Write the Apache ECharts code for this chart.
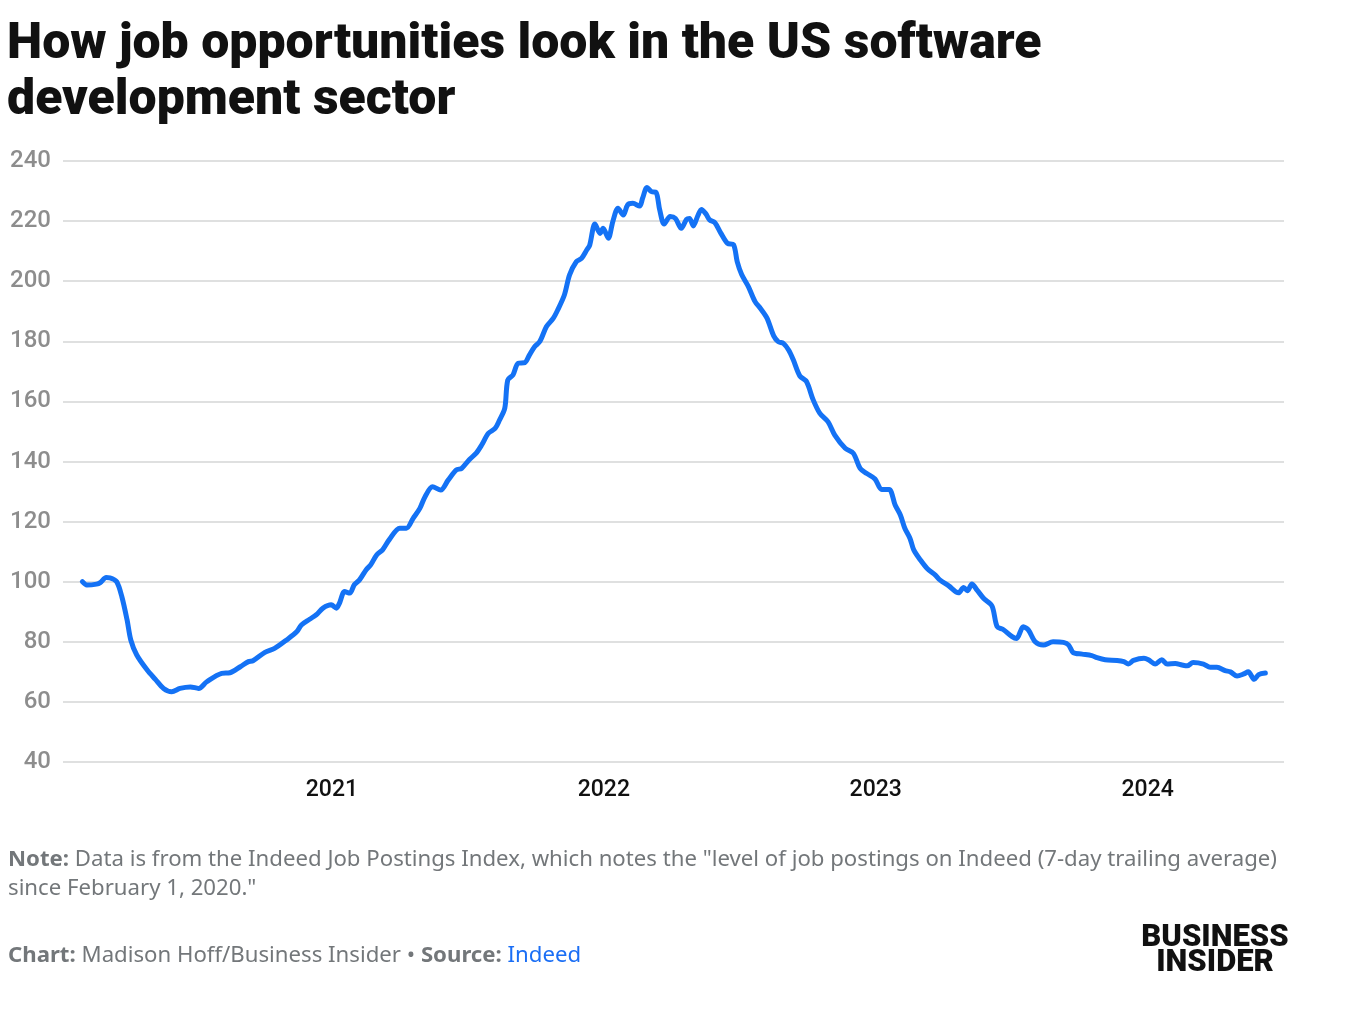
<!DOCTYPE html>
<html>
<head>
<meta charset="utf-8">
<title>US software development job postings</title>
<script src="https://cdn.jsdelivr.net/npm/echarts@6/dist/echarts.min.js"></script>
<style>
  html, body { margin: 0; padding: 0; background: #fff; }
  #chart { width: 1362px; height: 1012px; }
</style>
</head>
<body>
<div id="chart"></div>
<script>
// Indeed Job Postings Index, software development (Feb 1, 2020 = 100)
const dates = [
  '2020-02-01', '2020-02-07', '2020-02-20', '2020-02-25', '2020-03-04', '2020-03-09', '2020-03-18', '2020-03-25',
  '2020-04-01', '2020-04-06', '2020-04-14', '2020-04-28', '2020-05-09', '2020-05-20', '2020-05-31', '2020-06-11',
  '2020-06-25', '2020-07-06', '2020-07-17', '2020-08-06', '2020-08-17', '2020-08-31', '2020-09-11', '2020-09-17',
  '2020-10-03', '2020-10-16', '2020-11-01', '2020-11-15', '2020-11-21', '2020-12-02', '2020-12-11', '2020-12-20',
  '2020-12-31', '2021-01-07', '2021-01-11', '2021-01-18', '2021-01-25', '2021-01-31', '2021-02-07', '2021-02-16',
  '2021-02-22', '2021-03-02', '2021-03-10', '2021-03-19', '2021-04-02', '2021-04-11', '2021-04-20', '2021-04-29',
  '2021-05-06', '2021-05-16', '2021-05-27', '2021-06-06', '2021-06-17', '2021-06-24', '2021-07-04', '2021-07-14',
  '2021-07-21', '2021-07-30', '2021-08-08', '2021-08-14', '2021-08-21', '2021-08-25', '2021-09-01', '2021-09-08',
  '2021-09-17', '2021-09-23', '2021-09-30', '2021-10-07', '2021-10-16', '2021-10-25', '2021-10-31', '2021-11-09',
  '2021-11-16', '2021-11-25', '2021-12-02', '2021-12-09', '2021-12-13', '2021-12-20', '2021-12-27', '2021-12-31',
  '2022-01-07', '2022-01-13', '2022-01-20', '2022-01-27', '2022-02-02', '2022-02-09', '2022-02-18', '2022-02-22',
  '2022-02-28', '2022-03-06', '2022-03-12', '2022-03-17', '2022-03-23', '2022-03-31', '2022-04-07', '2022-04-15',
  '2022-04-22', '2022-04-26', '2022-05-01', '2022-05-07', '2022-05-12', '2022-05-18', '2022-05-23', '2022-05-30',
  '2022-06-07', '2022-06-16', '2022-06-24', '2022-06-29', '2022-07-05', '2022-07-14', '2022-07-23', '2022-07-30',
  '2022-08-08', '2022-08-17', '2022-08-23', '2022-08-30', '2022-09-06', '2022-09-12', '2022-09-21', '2022-09-30',
  '2022-10-09', '2022-10-18', '2022-10-29', '2022-11-07', '2022-11-21', '2022-12-02', '2022-12-11', '2022-12-20',
  '2022-12-31', '2023-01-09', '2023-01-19', '2023-01-27', '2023-02-03', '2023-02-09', '2023-02-16', '2023-02-21',
  '2023-03-02', '2023-03-11', '2023-03-22', '2023-03-28', '2023-04-09', '2023-04-22', '2023-04-29', '2023-05-04',
  '2023-05-10', '2023-05-17', '2023-05-26', '2023-06-06', '2023-06-13', '2023-06-21', '2023-07-03', '2023-07-09',
  '2023-07-18', '2023-07-25', '2023-08-03', '2023-08-14', '2023-08-27', '2023-09-10', '2023-09-17', '2023-09-23',
  '2023-10-05', '2023-10-18', '2023-10-25', '2023-11-05', '2023-11-21', '2023-11-30', '2023-12-06', '2023-12-13',
  '2023-12-27', '2024-01-02', '2024-01-11', '2024-01-20', '2024-01-27', '2024-02-07', '2024-02-16', '2024-02-23',
  '2024-03-02', '2024-03-16', '2024-03-25', '2024-04-03', '2024-04-14', '2024-04-21', '2024-04-30', '2024-05-09',
  '2024-05-15', '2024-05-23', '2024-05-29', '2024-06-07'
]
const postings = [
  100, 98.9, 99.2, 99.7, 101.4, 101.3, 100, 95,
  87.3, 80.6, 75.6, 70.6, 67.5, 64.5, 63.4, 64.5,
  65, 64.5, 66.7, 69.5, 69.7, 71.7, 73.4, 73.7,
  76.5, 77.8, 80.6, 83.4, 85.6, 87.5, 89, 91.2,
  92.3, 91.2, 92.8, 96.7, 96.2, 99, 100.6, 104,
  105.6, 108.9, 110.6, 114, 117.8, 117.8, 121.1, 124.4,
  128.3, 131.6, 130.5, 133.8, 137.2, 137.7, 140.5, 142.9,
  145.5, 149.4, 151, 153.8, 157.7, 167.1, 168.8, 172.7,
  172.9, 175.4, 178.2, 179.9, 184.9, 187.6, 190.4, 195.4,
  202.1, 206.5, 207.6, 210.4, 212, 219, 215.9, 217.6,
  214.3, 219.8, 224.3, 222, 225.4, 225.9, 225, 227.6,
  231.2, 229.8, 229.6, 223.7, 219, 221.5, 220.9, 217.6,
  220.6, 220.9, 218.4, 221.7, 223.9, 222.4, 220.4, 219.5,
  216, 212.6, 212.2, 206.5, 202.2, 198.2, 193.2, 191,
  187.7, 181.8, 179.9, 179.3, 177.1, 174, 168.5, 166.6,
  160.5, 156, 153.2, 148.8, 144.4, 142.7, 137.7, 136,
  134.2, 130.7, 130.7, 125.5, 122.2, 117.8, 114.4, 110.6,
  107.2, 104.4, 102.2, 100.6, 98.6, 96.3, 98.1, 97,
  99.2, 97.2, 94.4, 91.9, 85, 84.1, 81.7, 81.1,
  85, 83.9, 80, 78.9, 80, 79.8, 78.9, 76.4,
  75.9, 75.4, 74.7, 74, 73.8, 73.4, 72.6, 73.8,
  74.5, 74, 72.6, 74, 72.6, 72.8, 72.3, 72,
  73.1, 72.6, 71.5, 71.5, 70.4, 70, 68.6, 69.3,
  70, 67.5, 69.1, 69.6
]

const yTicks = [40, 240, 20] // min, max, step

const titleText = 'How job opportunities look in the US software\ndevelopment sector'
const noteText = '{b|Note:} Data is from the Indeed Job Postings Index, which notes the "level of job postings on Indeed (7-day trailing average)\nsince February 1, 2020."'
const creditText = '{b|Chart:} Madison Hoff/Business Insider \u2022 {b|Source:} {link|Indeed}'

const gray = '#73777a'
const font = 'Roboto, "Liberation Sans", sans-serif'
const noteFont = '"Noto Sans", Roboto, sans-serif'
const noteSize = 22.2

const chart = echarts.init(document.getElementById('chart'))

chart.setOption({
  animation: false,
  backgroundColor: '#fff',
  grid: { left: 63, right: 78, top: 161, bottom: 250, containLabel: false },
  xAxis: {
    type: 'time',
    min: '2020-01-06',
    max: '2024-07-02',
    splitNumber: 4,
    axisLine: { show: false },
    axisTick: { show: false },
    splitLine: { show: false },
    axisLabel: {
      color: '#111',
      fontSize: 23,
      fontWeight: 500,
      fontFamily: font,
      margin: 17,
      formatter: function (val) {
        const d = new Date(val)
        return d.getMonth() === 0 && d.getDate() === 1 ? String(d.getFullYear()) : ''
      }
    }
  },
  yAxis: {
    type: 'value',
    min: yTicks[0],
    max: yTicks[1],
    interval: yTicks[2],
    axisLine: { show: false },
    axisTick: { show: false },
    axisLabel: { color: '#8d8d8d', fontSize: 24, fontWeight: 500, fontFamily: font, margin: 12 },
    splitLine: { lineStyle: { color: '#d4d6d6', width: 1.5 } }
  },
  series: [{
    type: 'line',
    data: dates.map((d, i) => [d, postings[i]]),
    showSymbol: false,
    smooth: 0.3,
    lineStyle: { color: '#1472f5', width: 5, cap: 'round', join: 'round' }
  }],
  graphic: [
    {
      type: 'text', left: 7, top: 17,
      style: { text: titleText, fill: '#111', fontSize: 50, fontWeight: 900, fontFamily: font, lineHeight: 56 }
    },
    {
      type: 'text', left: 8, top: 845,
      style: {
        text: noteText, fill: gray, fontSize: noteSize, fontFamily: noteFont, lineHeight: 29,
        rich: { b: { fontWeight: 'bold', fill: gray, fontSize: noteSize, fontFamily: noteFont } }
      }
    },
    {
      type: 'text', left: 8, top: 941,
      style: {
        text: creditText, fill: gray, fontSize: noteSize, fontFamily: noteFont, lineHeight: 29,
        rich: {
          b: { fontWeight: 'bold', fill: gray, fontSize: noteSize, fontFamily: noteFont },
          link: { fill: '#1a6ef5', fontSize: noteSize, fontFamily: noteFont }
        }
      }
    },
    {
      type: 'text', x: 1215, y: 926,
      style: {
        text: 'BUSINESS\nINSIDER', fill: '#111', fontSize: 31, fontWeight: 900, fontFamily: font,
        lineHeight: 25, align: 'center', verticalAlign: 'top'
      }
    }
  ]
})
</script>
</body>
</html>
